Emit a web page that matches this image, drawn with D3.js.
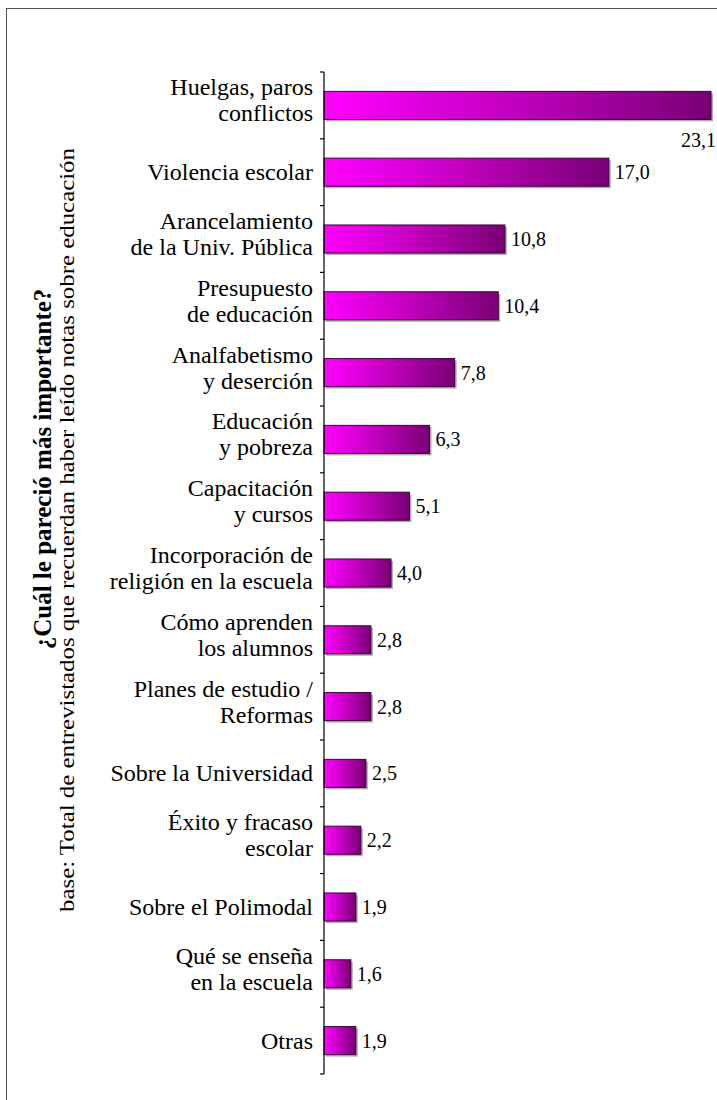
<!DOCTYPE html>
<html><head><meta charset="utf-8">
<script src="https://cdn.jsdelivr.net/npm/d3@7/dist/d3.min.js"></script>
<style>body{margin:0;background:#fff}svg{display:block}
svg text{font-family:"Liberation Serif","Tinos","Times New Roman","Nimbus Roman","DejaVu Serif",serif}</style>
</head><body>
<script>
const categories = [
  ["Huelgas, paros","conflictos"],
  ["Violencia escolar"],
  ["Arancelamiento","de la Univ. Pública"],
  ["Presupuesto","de educación"],
  ["Analfabetismo","y deserción"],
  ["Educación","y pobreza"],
  ["Capacitación","y cursos"],
  ["Incorporación de","religión en la escuela"],
  ["Cómo aprenden","los alumnos"],
  ["Planes de estudio /","Reformas"],
  ["Sobre la Universidad"],
  ["Éxito y fracaso","escolar"],
  ["Sobre el Polimodal"],
  ["Qué se enseña","en la escuela"],
  ["Otras"]
];
const values = [23.1,17.0,10.8,10.4,7.8,6.3,5.1,4.0,2.8,2.8,2.5,2.2,1.9,1.6,1.9];
const valueLabels = ["23,1","17,0","10,8","10,4","7,8","6,3","5,1","4,0","2,8","2,8","2,5","2,2","1,9","1,6","1,9"];
const titleText = "¿Cuál le pareció más importante?";
const subtitleText = "base: Total de entrevistados que recuerdan haber leído notas sobre educación";

const W = 717, H = 1100;
const svg = d3.select("body").append("svg").attr("width", W).attr("height", H);

// frame
svg.append("rect").attr("x", 6.5).attr("y", 8.5).attr("width", W + 20).attr("height", H + 20)
  .attr("fill", "none").attr("stroke", "#555").attr("stroke-width", 1);

const idx = d3.range(categories.length);
const y = d3.scaleBand().domain(idx).range([72, 1074]).paddingInner(0.58).paddingOuter(0.29);
const x = d3.scaleLinear().domain([0, 23.1]).range([324, 711]);

const defs = svg.append("defs");
const grad = defs.append("linearGradient").attr("id", "g").attr("x1", 0).attr("x2", 1).attr("y1", 0).attr("y2", 0);
grad.append("stop").attr("offset", "0%").attr("stop-color", "#ff00ff");
grad.append("stop").attr("offset", "50%").attr("stop-color", "#c000bd");
grad.append("stop").attr("offset", "100%").attr("stop-color", "#780074");

// shadows
svg.append("g").selectAll("rect").data(idx).join("rect")
  .attr("x", x(0) + 2).attr("y", i => y(i) + 2)
  .attr("width", i => x(values[i]) - x(0)).attr("height", y.bandwidth())
  .attr("fill", "#b0b0b0");
// bars
svg.append("g").selectAll("rect").data(idx).join("rect")
  .attr("x", x(0)).attr("y", i => y(i))
  .attr("width", i => x(values[i]) - x(0)).attr("height", y.bandwidth())
  .attr("fill", "url(#g)").attr("stroke", "#3c003a").attr("stroke-width", 1);

// axis
const step = y.step();
svg.append("line").attr("x1", 324).attr("x2", 324).attr("y1", 72).attr("y2", 1074)
  .attr("stroke", "#000").attr("stroke-width", 1.2);
svg.append("g").selectAll("line").data(d3.range(categories.length + 1)).join("line")
  .attr("x1", 320).attr("x2", 324)
  .attr("y1", i => 72 + i * step).attr("y2", i => 72 + i * step)
  .attr("stroke", "#000").attr("stroke-width", 1.2);

// category labels
const lab = svg.append("g").attr("font-size", 24).attr("text-anchor", "end").attr("fill", "#000");
idx.forEach(i => {
  const c = y(i) + y.bandwidth() / 2;
  const lines = categories[i];
  const t = lab.append("text");
  if (lines.length === 1) {
    t.append("tspan").attr("x", 313).attr("y", c + 8).text(lines[0]);
  } else {
    t.append("tspan").attr("x", 313).attr("y", c - 10).text(lines[0]);
    t.append("tspan").attr("x", 313).attr("y", c + 16).text(lines[1]);
  }
});

// value labels
svg.append("g").attr("font-size", 20).attr("fill", "#000")
  .selectAll("text").data(idx).join("text")
  .attr("x", i => i === 0 ? 716 : x(values[i]) + 6)
  .attr("y", i => i === 0 ? y(i) + y.bandwidth() / 2 + 42 : y(i) + y.bandwidth() / 2 + 7)
  .attr("text-anchor", i => i === 0 ? "end" : "start")
  .text(i => valueLabels[i]);

// titles
svg.append("text").attr("transform", "translate(51,469) rotate(-90)")
  .attr("text-anchor", "middle").attr("font-weight", "bold")
  .attr("font-size", 25).text(titleText);
svg.append("text").attr("transform", "translate(74,530) rotate(-90)")
  .attr("text-anchor", "middle")
  .attr("font-size", 21).attr("textLength", 764).attr("lengthAdjust", "spacingAndGlyphs")
  .text(subtitleText);
</script>
</body></html>
